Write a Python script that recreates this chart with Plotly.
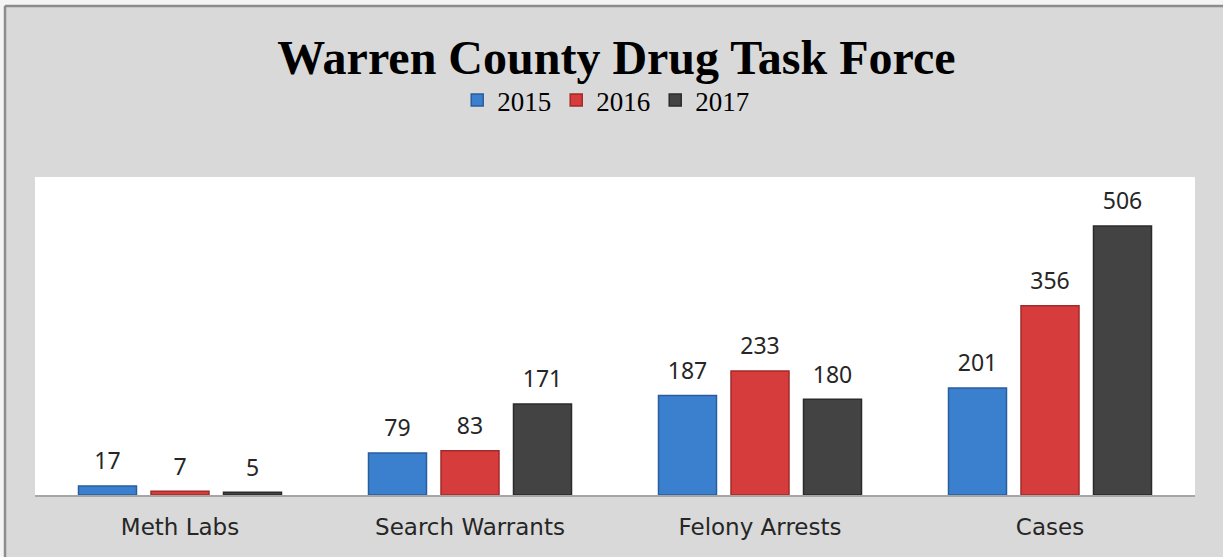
import plotly.graph_objects as go

categories = ["Meth Labs", "Search Warrants", "Felony Arrests", "Cases"]
years = ["2015", "2016", "2017"]
values_2015 = [17, 79, 187, 201]
values_2016 = [7, 83, 233, 356]
values_2017 = [5, 171, 180, 506]

series = [values_2015, values_2016, values_2017]
fills = ["#3b7fcf", "#d63c3c", "#434343"]
edges = ["#2a5d9c", "#a32a2a", "#2b2b2b"]

W, H = 1223, 557
ml, mr, mt, mb = 35, 28, 177, 62
pw = W - ml - mr
ph = H - mt - mb

fig = go.Figure()
for name, vals, fc, ec in zip(years, series, fills, edges):
    fig.add_trace(go.Bar(
        x=categories, y=vals, name=name,
        marker=dict(color=fc, line=dict(color=ec, width=1.5)),
        hoverinfo="x+y+name",
    ))

# value labels placed above bars with extra clearance
for name, vals in zip(years, series):
    fig.add_trace(go.Scatter(
        x=categories, y=vals, name=name + " labels",
        mode="markers+text", text=[str(v) for v in vals],
        textposition="top center",
        textfont=dict(family="Noto Sans", size=23, color="#262626"),
        marker=dict(size=16, opacity=0, color="#ffffff"),
        showlegend=False, hoverinfo="skip", cliponaxis=False,
    ))

def px_x(p):
    return (p - ml) / pw

def px_y(p):
    return 1 - (p - mt) / ph

fig.update_layout(
    width=W, height=H,
    margin=dict(l=ml, r=mr, t=mt, b=mb),
    paper_bgcolor="#d9d9d9",
    plot_bgcolor="#ffffff",
    barmode="group",
    bargap=0.25,
    bargroupgap=0.2,
    scattermode="group",
    scattergap=0.25,
    title=dict(
        text="<b>Warren County Drug Task Force</b>",
        font=dict(family="Liberation Serif", size=48, color="#000000"),
        x=0.504, xanchor="center", y=1 - 57 / H, yanchor="middle",
    ),
    legend=dict(
        orientation="h", x=0.492, xanchor="center",
        y=px_y(100.5), yanchor="middle",
        font=dict(family="Liberation Serif", size=27, color="#000000"),
        bgcolor="rgba(0,0,0,0)",
        tracegroupgap=0,
    ),
    xaxis=dict(
        showgrid=False, showline=True, linecolor="#a6a6a6", linewidth=1.5,
        ticks="", tickfont=dict(family="DejaVu Sans", size=23, color="#262626"),
        ticklabelstandoff=11,
    ),
    yaxis=dict(range=[0, 598], showgrid=False, showticklabels=False,
               zeroline=False, showline=False),
    showlegend=True,
    shapes=[
        dict(type="rect", xref="paper", yref="paper",
             x0=px_x(-10), x1=px_x(W + 10), y0=px_y(-10), y1=px_y(5),
             fillcolor="#f4f4f4", line=dict(width=0), layer="below"),
        dict(type="rect", xref="paper", yref="paper",
             x0=px_x(-10), x1=px_x(4), y0=px_y(H + 10), y1=px_y(-10),
             fillcolor="#f4f4f4", line=dict(width=0), layer="below"),
        dict(type="line", xref="paper", yref="paper",
             x0=px_x(5), x1=px_x(W + 10), y0=px_y(6), y1=px_y(6),
             line=dict(color="#8c8c8c", width=2.5)),
        dict(type="line", xref="paper", yref="paper",
             x0=px_x(5), x1=px_x(5), y0=px_y(6), y1=px_y(H + 10),
             line=dict(color="#8c8c8c", width=2.5)),
    ],
)

fig.write_html(
    "out.html",
    config={"displayModeBar": False},
    post_script="document.body.style.margin='0px';document.body.style.overflow='hidden';",
)
